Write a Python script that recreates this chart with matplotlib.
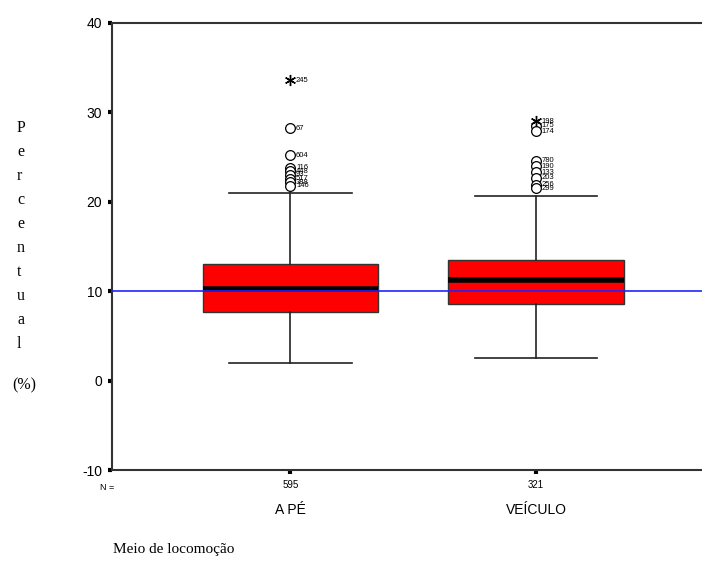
import matplotlib
matplotlib.use("Agg")
import matplotlib.pyplot as plt

# ---- data ----
categories = ["A PÉ", "VEÍCULO"]
counts = [595, 321]
q1 = [7.7, 8.6]
median = [10.3, 11.3]
q3 = [13.0, 13.5]
whis_lo = [2.0, 2.5]
whis_hi = [21.0, 20.7]
outliers_a = [28.2, 25.2, 23.8, 23.4, 23.0, 22.6, 22.2, 21.8]
outlier_labels_a = ["67", "604", "116", "448", "93", "517", "388", "146"]
extremes_a = [33.6]
extreme_labels_a = ["245"]
outliers_b = [28.5, 27.9, 24.6, 24.0, 23.3, 22.7, 21.9, 21.5]
outlier_labels_b = ["175", "174", "780", "190", "133", "203", "256", "299"]
extremes_b = [29.0]
extreme_labels_b = ["198"]
reference = 10
yticks = [-10, 0, 10, 20, 30, 40]
ylabel_letters = ["P", "e", "r", "c", "e", "n", "t", "u", "a", "l", "(%)"]
xlabel = "Meio de locomoção"

fig = plt.figure(figsize=(7.02, 5.65), dpi=100)
ax = fig.add_axes([112/702, 95/565, 1 - 112/702, (470-23)/565])

positions = [1, 2]
stats = []
for i in range(2):
    stats.append(dict(med=median[i], q1=q1[i], q3=q3[i],
                      whislo=whis_lo[i], whishi=whis_hi[i], fliers=[]))
ax.bxp(stats, positions=positions, widths=0.713, patch_artist=True,
       showfliers=False, capwidths=0.5,
       boxprops=dict(facecolor="#ff0000", edgecolor="#333333", linewidth=1.0),
       medianprops=dict(color="black", linewidth=4),
       whiskerprops=dict(color="#222222", linewidth=1.2),
       capprops=dict(color="#222222", linewidth=1.2))

ax.axhline(reference, color="#2222ff", linewidth=1.2, zorder=5)

for pos, outs, olab, ext, elab in [(1, outliers_a, outlier_labels_a, extremes_a, extreme_labels_a),
                                   (2, outliers_b, outlier_labels_b, extremes_b, extreme_labels_b)]:
    ax.plot([pos]*len(outs), outs, linestyle="none", marker="o", markersize=7,
            markerfacecolor="white", markeredgecolor="black", markeredgewidth=0.9, zorder=6)
    ax.plot([pos]*len(ext), ext, linestyle="none", marker=(6, 2, 0), markersize=8,
            markerfacecolor="black", markeredgecolor="black", markeredgewidth=1.0, zorder=6)
    for v, t in zip(outs + ext, olab + elab):
        ax.annotate(t, (pos, v), xytext=(4, 0), textcoords="offset points",
                    va="center", ha="left", fontsize=5.5, family="Liberation Sans")

ax.set_xlim(0.273, 2.676)
ax.set_ylim(-10, 40)
ax.set_yticks(yticks)
ax.set_yticklabels([str(t) for t in yticks], family="Liberation Sans", fontsize=10)
ax.set_xticks(positions)
ax.set_xticklabels([str(c) for c in counts], family="Liberation Sans", fontsize=7)
ax.tick_params(axis="both", direction="out", length=3, width=3, color="black", pad=4)

for s in ["left", "bottom", "top"]:
    ax.spines[s].set_linewidth(1.5)
    ax.spines[s].set_color("#333333")
ax.spines["right"].set_visible(False)

# category names under N counts
for p, c in zip(positions, categories):
    ax.text(p, -0.09, c, transform=ax.get_xaxis_transform(), ha="center", va="center",
            fontsize=10, family="Liberation Sans")
fig.text(100/702, 1 - 487/565, "N =", ha="left", va="center", fontsize=6.5, family="Liberation Sans")

# stacked vertical y label
ys = [128, 152, 176, 200, 224, 248, 272, 296, 320, 344, 385]
for letter, y in zip(ylabel_letters, ys):
    fig.text(17/702 if letter != "(%)" else 12/702, 1 - y/565, letter, ha="left", va="center",
             fontsize=11.5, family="Liberation Serif")

fig.text(113/702, 1 - 550/565, xlabel, ha="left", va="center", fontsize=11, family="Liberation Serif")

fig.savefig("out.png", dpi=100)
